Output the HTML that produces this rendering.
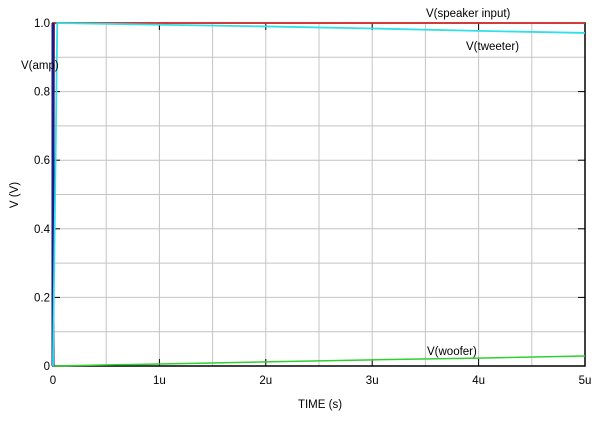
<!DOCTYPE html>
<html><head><meta charset="utf-8"><style>
body{margin:0;background:#fff;width:600px;height:436px;overflow:hidden;font-family:"Liberation Sans",sans-serif}
</style></head><body>
<svg id="chart" width="600" height="436" xmlns="http://www.w3.org/2000/svg" font-family="Liberation Sans, sans-serif" font-size="11.5">
<rect width="600" height="436" fill="#fff"/>
<g id="grid"></g><g id="axes"></g><g id="series"></g>
<text x="18" y="195" text-anchor="middle" transform="rotate(-90 18 195)" fill="#000">V  (V)</text>
<text x="320" y="408" text-anchor="middle" fill="#000">TIME  (s)</text>
<text x="21" y="69" fill="#000">V(amp)</text>
<text x="426" y="17" fill="#000">V(speaker input)</text>
<text x="466" y="50" fill="#000">V(tweeter)</text>
<text x="427" y="355" fill="#000">V(woofer)</text>
</svg>
<script>
const xTicks=[0,1,2,3,4,5];
const xTickLabels=["0","1u","2u","3u","4u","5u"];
const yTicks=[0,0.2,0.4,0.6,0.8,1.0];
const yTickLabels=["0","0.2","0.4","0.6","0.8","1.0"];
const ampT=[0,0];const ampV=[0,1];
const speakerT=[0,0.01,5];const speakerV=[0,1,1];
const tweeterT=[0,0.04,1,2,3,4,5];const tweeterV=[0,1,0.995,0.99,0.984,0.977,0.971];
const wooferT=[0,1,2,3,4,5];const wooferV=[0,0.006,0.012,0.018,0.023,0.029];
const X0=53,X1=585,Y0=366,Y1=23;
const sx=t=>X0+(X1-X0)*t/5, sy=v=>Y0-(Y0-Y1)*v;
const NS="http://www.w3.org/2000/svg";
function mk(tag,attrs,parent){const e=document.createElementNS(NS,tag);for(const k in attrs)e.setAttribute(k,attrs[k]);parent.appendChild(e);return e;}
const grid=document.getElementById('grid'),axes=document.getElementById('axes'),ser=document.getElementById('series');
for(let i=1;i<10;i++){const l=mk('line',{x1:sx(i*0.5),x2:sx(i*0.5),y1:Y1,y2:Y0,stroke:'#c4c4c4','stroke-width':1},grid);

}
for(let i=1;i<10;i++){const l=mk('line',{x1:X0,x2:X1,y1:sy(i*0.1),y2:sy(i*0.1),stroke:'#c4c4c4','stroke-width':1},grid);

}
const fr=mk('rect',{x:X0,y:Y1,width:X1-X0,height:Y0-Y1,fill:'none',stroke:'#000','stroke-width':1.5},axes);


xTicks.forEach((t,i)=>{
mk('line',{x1:sx(t),x2:sx(t),y1:Y0,y2:Y0-7,stroke:'#000'},axes);
mk('line',{x1:sx(t),x2:sx(t),y1:Y1,y2:Y1+7,stroke:'#000'},axes);
const tx=mk('text',{x:sx(t),y:Y0+18,'text-anchor':'middle',fill:'#000'},axes);tx.textContent=xTickLabels[i];

});
yTicks.forEach((v,i)=>{
mk('line',{x1:X0,x2:X0+7,y1:sy(v),y2:sy(v),stroke:'#000'},axes);
mk('line',{x1:X1,x2:X1-7,y1:sy(v),y2:sy(v),stroke:'#000'},axes);
const tx=mk('text',{x:X0-3,y:sy(v)+4,'text-anchor':'end',fill:'#000'},axes);tx.textContent=yTickLabels[i];

});
function line(T,V,color,w,name){const p=mk('polyline',{points:T.map((t,i)=>sx(t)+','+sy(V[i])).join(' '),fill:'none',stroke:color,'stroke-width':w},ser);

}
line(speakerT,speakerV,'#e03030',1.8,'speaker-input-line');
line(wooferT,wooferV,'#30d030',1.5,'woofer-line');
line(ampT,ampV,'#1a1a8a',3,'amp-line');
line(tweeterT,tweeterV,'#30e0e8',1.8,'tweeter-line');
</script>
</body></html>
